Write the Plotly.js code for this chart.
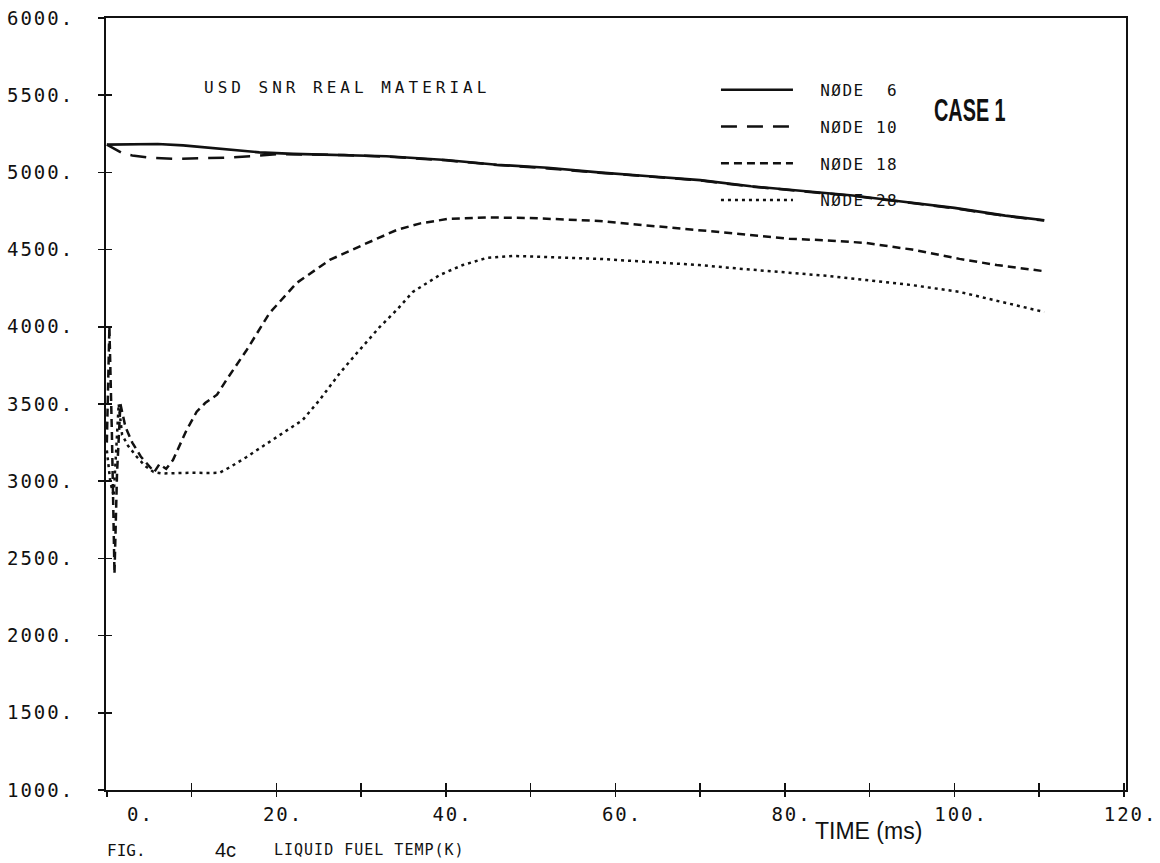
<!DOCTYPE html>
<html><head><meta charset="utf-8">
<script src="https://cdn.plot.ly/plotly-3.0.1.min.js"></script>
<style>
html,body{margin:0;padding:0;background:#fff;}
#chart{width:1160px;height:863px;}
.xtick text,.ytick text{letter-spacing:2px;}
.legendtext{letter-spacing:1.5px;}
.annotation-text[data-unformatted^="USD"]{letter-spacing:4px;}
.annotation-text[data-unformatted^="LIQUID"]{letter-spacing:1px;}
.annotation-text[data-unformatted^="CASE"]{transform:scaleX(0.62);transform-box:fill-box;transform-origin:center;}
</style>
</head><body><div id="chart"></div>
<script>
// ---- data ----
const seriesNames = ["NØDE\u00A0\u00A06", "NØDE\u00A010", "NØDE\u00A018", "NØDE\u00A028"];

const node6T = [0, 3, 6, 9, 12, 15, 18, 22, 27, 33, 40, 46, 52, 58, 64, 70, 76, 82, 88, 94, 100, 106, 110.6];
const node6V = [5180, 5182, 5184, 5175, 5160, 5145, 5130, 5120, 5115, 5105, 5080, 5050, 5030, 5000, 4975, 4950, 4910, 4880, 4850, 4810, 4770, 4720, 4690];

const node10T = [0, 1, 2, 3, 5, 8, 11, 14, 17, 20, 24, 28, 33, 40, 46, 52, 58, 64, 70, 76, 82, 88, 94, 100, 106, 110.6];
const node10V = [5180, 5150, 5120, 5110, 5095, 5088, 5090, 5095, 5105, 5118, 5116, 5112, 5102, 5078, 5048, 5026, 4998, 4973, 4948, 4908, 4878, 4848, 4808, 4768, 4718, 4688];

const node18T = [0, 0.3, 0.6, 0.9, 1.2, 1.6, 2.2, 3, 4, 5, 5.6, 6.2, 7, 7.8, 8.6, 9.4, 10.6, 11.6, 13, 14.1, 16.5, 19.2, 22.4, 26.3, 30.2, 34.2, 37, 40.4, 45, 49.9, 54, 58.1, 64, 69.9, 75, 80.5, 85, 89.6, 95, 100.6, 105, 110.6];
const node18V = [3250, 4000, 3300, 2400, 3050, 3500, 3350, 3250, 3160, 3100, 3060, 3110, 3080, 3137, 3230, 3330, 3450, 3506, 3560, 3655, 3850, 4089, 4284, 4433, 4530, 4627, 4670, 4700, 4708, 4705, 4695, 4685, 4655, 4627, 4600, 4570, 4560, 4543, 4500, 4440, 4400, 4360];

const node28T = [0, 0.4, 0.8, 1.1, 1.4, 1.8, 2.5, 3.5, 4.5, 5.5, 6.5, 8, 10, 12, 13.3, 14.5, 16.5, 18.5, 20.4, 23.1, 25.1, 27.5, 29.5, 32.2, 34.2, 36.1, 39.3, 42, 44.8, 47.9, 51.9, 58.1, 64, 69.9, 75, 80.5, 85, 89.6, 95, 100.6, 105, 110.6];
const node28V = [3200, 3000, 2900, 3200, 3500, 3300, 3230, 3160, 3100, 3060, 3050, 3052, 3055, 3053, 3055, 3090, 3157, 3230, 3299, 3396, 3526, 3701, 3830, 3999, 4109, 4226, 4336, 4400, 4446, 4459, 4452, 4440, 4420, 4400, 4375, 4350, 4330, 4303, 4270, 4226, 4170, 4096];

const xTickVals = [0, 10, 20, 30, 40, 50, 60, 70, 80, 90, 100, 110, 120];
const xTickText = ["\u00A0\u00A0\u00A0\u00A0\u00A00.", "", "\u00A020.", "", "\u00A040.", "", "\u00A060.", "", "\u00A080.", "", "\u00A0100.", "", "\u00A0120."];
const yTickVals = [1000, 1500, 2000, 2500, 3000, 3500, 4000, 4500, 5000, 5500, 6000];
const yTickText = ["1000.", "1500.", "2000.", "2500.", "3000.", "3500.", "4000.", "4500.", "5000.", "5500.", "6000."];

const plotTitle = "USD SNR REAL MATERIAL";
const caseLabel = "CASE 1";
const xTitle = "TIME (ms)";
const figLabel = "FIG.";
const figNum = "4c";
const figCaption = "LIQUID FUEL TEMP(K)";

// ---- drawing ----
const MONO = "DejaVu Sans Mono, monospace";
const SANS = "Liberation Sans, Arial, sans-serif";
const PAD = "\u00A0\u00A0";
const dashes = ["solid", "16px,10px", "8px,5px", "3px,4px"];
const widths = [2.6, 2.5, 2.5, 2.5];
const xs = [node6T, node10T, node18T, node28T];
const ys = [node6V, node10V, node18V, node28V];
// the last series sits on the overlay axes, which carry the inner half of every tick
const xaxRef = ["x", "x", "x", "x2"];
const yaxRef = ["y", "y", "y", "y2"];

const traces = xs.map((x, i) => ({
  type: "scatter", mode: "lines", x: x, y: ys[i], name: PAD + seriesNames[i],
  xaxis: xaxRef[i], yaxis: yaxRef[i],
  legendgroup: "g" + i,
  line: {color: "#111", width: widths[i], dash: dashes[i]},
  hoverinfo: "skip"
}));

const X_RANGE = [-0.1, 120.25];
const Y_RANGE = [1000, 6000];
const axisCommon = {showgrid: false, zeroline: false, linecolor: "#111", linewidth: 2, tickcolor: "#111", tickwidth: 1.5, tickmode: "array"};

const layout = {
  width: 1160, height: 863,
  margin: {l: 106, r: 34, t: 18, b: 73},
  paper_bgcolor: "#fff", plot_bgcolor: "#fff",
  showlegend: true,
  legend: {x: 0.598, y: 0.929, xanchor: "left", yanchor: "top", bgcolor: "rgba(0,0,0,0)",
           font: {family: MONO, size: 16, color: "#111"}, itemwidth: 72, tracegroupgap: 13, traceorder: "grouped"},
  xaxis: Object.assign({}, axisCommon, {range: X_RANGE, tickvals: xTickVals, ticktext: xTickText,
          ticks: "outside", ticklen: 5, showline: true, mirror: true, ticklabelstandoff: 1,
          tickfont: {family: MONO, size: 19, color: "#111"}}),
  yaxis: Object.assign({}, axisCommon, {range: Y_RANGE, tickvals: yTickVals, ticktext: yTickText,
          ticks: "outside", ticklen: 6, showline: true, mirror: true, ticklabelstandoff: 20,
          tickfont: {family: MONO, size: 19, color: "#111"}}),
  xaxis2: Object.assign({}, axisCommon, {overlaying: "x", anchor: "y", side: "bottom", range: X_RANGE, tickvals: xTickVals,
          ticks: "inside", ticklen: 7, showline: false, showticklabels: false}),
  yaxis2: Object.assign({}, axisCommon, {overlaying: "y", anchor: "x", side: "left", range: Y_RANGE, tickvals: yTickVals,
          ticks: "inside", ticklen: 6, showline: false, showticklabels: false}),
  annotations: [
    {text: plotTitle, xref: "paper", yref: "paper", x: (347 - 106) / 1020, y: (790 - 88) / 772, xanchor: "center", yanchor: "middle",
     showarrow: false, font: {family: MONO, size: 16, color: "#111"}},
    {text: caseLabel, xref: "paper", yref: "paper", x: (970 - 106) / 1020, y: (790 - 110) / 772, xanchor: "center", yanchor: "middle",
     showarrow: false, font: {family: "Liberation Sans, Arial, sans-serif", size: 32, weight: "bold", color: "#111"}},
    {text: xTitle, xref: "paper", yref: "paper", x: (868 - 106) / 1020, y: -(831 - 790) / 772, xanchor: "center", yanchor: "middle",
     showarrow: false, font: {family: SANS, size: 23, color: "#111"}},
    {text: figLabel, xref: "paper", yref: "paper", x: (105 - 106) / 1020, y: -(850 - 790) / 772, xanchor: "left", yanchor: "middle",
     showarrow: false, font: {family: MONO, size: 16, color: "#111"}},
    {text: figNum, xref: "paper", yref: "paper", x: (213 - 106) / 1020, y: -(850 - 790) / 772, xanchor: "left", yanchor: "middle",
     showarrow: false, font: {family: SANS, size: 20, color: "#111"}},
    {text: figCaption, xref: "paper", yref: "paper", x: (272 - 106) / 1020, y: -(850 - 790) / 772, xanchor: "left", yanchor: "middle",
     showarrow: false, font: {family: MONO, size: 15, color: "#111"}}
  ]
};

Plotly.newPlot("chart", traces, layout, {displayModeBar: false, staticPlot: true});
</script>
</body></html>
